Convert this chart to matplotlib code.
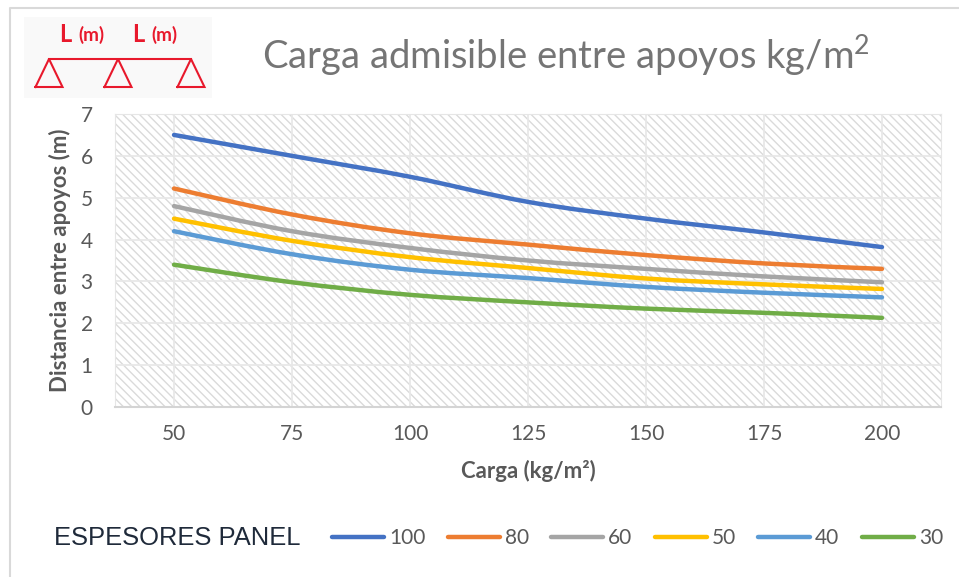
import matplotlib
matplotlib.use("Agg")
import matplotlib.pyplot as plt
from matplotlib.lines import Line2D
from matplotlib.patches import PathPatch, Rectangle
from matplotlib.path import Path

plt.rcParams["font.family"] = ["Lato", "DejaVu Sans"]
plt.rcParams["mathtext.fontset"] = "custom"
plt.rcParams["mathtext.rm"] = "Lato"
plt.rcParams["mathtext.default"] = "rm"
plt.rcParams["hatch.linewidth"] = 1.0
plt.rcParams["hatch.color"] = "#dadada"

# data
cargas = ["50", "75", "100", "125", "150", "175", "200"]
espesores = ["100", "80", "60", "50", "40", "30"]
colores = ["#4472c4", "#ed7d31", "#a5a5a5", "#ffc000", "#5b9bd5", "#70ad47"]

e100 = [6.5, 6.0, 5.5, 4.9, 4.5, 4.17, 3.82]
e80 = [5.22, 4.6, 4.15, 3.88, 3.63, 3.43, 3.3]
e60 = [4.8, 4.2, 3.8, 3.5, 3.3, 3.12, 2.98]
e50 = [4.5, 3.97, 3.58, 3.32, 3.07, 2.93, 2.82]
e40 = [4.2, 3.65, 3.28, 3.08, 2.87, 2.73, 2.62]
e30 = [3.4, 2.98, 2.68, 2.5, 2.35, 2.25, 2.13]
series = [e100, e80, e60, e50, e40, e30]

W, H = 959, 577


def smooth_path(xs, ys):
    # same kind of bezier smoothing as a spreadsheet "smoothed line"
    verts = [(xs[0], ys[0])]
    codes = [Path.MOVETO]
    n = len(xs)
    for i in range(n - 1):
        x0, y0 = xs[max(i - 1, 0)], ys[max(i - 1, 0)]
        x1, y1 = xs[i], ys[i]
        x2, y2 = xs[i + 1], ys[i + 1]
        x3, y3 = xs[min(i + 2, n - 1)], ys[min(i + 2, n - 1)]
        verts += [(x1 + (x2 - x0) / 6, y1 + (y2 - y0) / 6),
                  (x2 - (x3 - x1) / 6, y2 - (y3 - y1) / 6),
                  (x2, y2)]
        codes += [Path.CURVE4] * 3
    return Path(verts, codes)


fig = plt.figure(figsize=(W / 100, H / 100), dpi=100, facecolor="white")

# chart frame
fig.add_artist(Line2D([10 / W, 10 / W, 1], [0, 1 - 8 / H, 1 - 8 / H], color="#d9d9d9", lw=1.5))

ax = fig.add_axes([115 / W, 1 - 407 / H, (941 - 115) / W, (407 - 114) / H])
ax.set_xlim(-0.5, 6.5)
ax.set_ylim(0, 7)
ax.add_patch(Rectangle((0, 0), 1, 1, transform=ax.transAxes, facecolor="white",
                       hatch="\\\\\\\\", edgecolor="#dadada", lw=0, zorder=0))
ax.set_xticks(range(len(cargas)))
ax.set_xticklabels(cargas)
ax.set_yticks(range(8))
ax.tick_params(length=0, labelsize=15, labelcolor="#595959", pad=12)
ax.tick_params(axis="y", pad=16)
ax.grid(True, color="#e8e8e8", lw=1.3, zorder=1)
ax.set_axisbelow(True)
for lado in ["top", "left", "right"]:
    ax.spines[lado].set_color("#e6e6e6")
ax.spines["bottom"].set_color("#d4d4d4")
ax.spines["bottom"].set_linewidth(1.5)

x = list(range(len(cargas)))
for valores, color in zip(series, colores):
    ax.add_patch(PathPatch(smooth_path(x, valores), facecolor="none", edgecolor=color,
                           lw=3.2, capstyle="round", zorder=3))

ax.set_xlabel("Carga (kg/m²)", fontsize=16, fontweight="bold", color="#595959", labelpad=12)
ax.set_ylabel("Distancia entre apoyos (m)", fontsize=16, fontweight="bold", color="#595959", labelpad=7)

fig.text(566 / W, 1 - 55 / H, "Carga admisible entre apoyos kg/m$^{2}$", fontsize=27.5,
         color="#757575", ha="center", va="center")

# diagrama de apoyos
dia = fig.add_axes([24 / W, 1 - 98 / H, (212 - 24) / W, (98 - 17) / H])
dia.set_xlim(24, 212)
dia.set_ylim(98, 17)
dia.set_facecolor("#f9f9f9")
dia.set_xticks([])
dia.set_yticks([])
for s in dia.spines.values():
    s.set_visible(False)
rojo = "#e8192c"
dia.plot([49, 191], [59, 59], color=rojo, lw=1.5)
for cx in [49, 118, 191]:
    dia.plot([cx - 13.5, cx, cx + 13.5, cx - 13.5], [87, 59, 87, 87], color=rojo, lw=1.5,
             solid_joinstyle="miter")
for lx, mx in [(65, 91), (138, 164)]:
    dia.text(lx, 34, "L", color=rojo, fontsize=17, fontweight="bold", ha="center", va="center")
    dia.text(mx, 35, "(m)", color=rojo, fontsize=13.5, fontweight="bold", ha="center", va="center")

# leyenda
fig.text(54 / W, 1 - 538 / H, "ESPESORES PANEL", fontsize=18.4, color="#1f2a3a",
         family="Liberation Sans", va="center")
inicio = [332, 448, 551, 655, 758, 862]
for i, (nombre, color) in enumerate(zip(espesores, colores)):
    x0 = inicio[i]
    fig.add_artist(Line2D([x0 / W, (x0 + 52) / W], [1 - 537 / H] * 2, color=color, lw=3.2,
                          solid_capstyle="round"))
    fig.text((x0 + 57) / W, 1 - 538 / H, nombre, fontsize=15, color="#595959", va="center")

fig.savefig("out.png", dpi=100)
